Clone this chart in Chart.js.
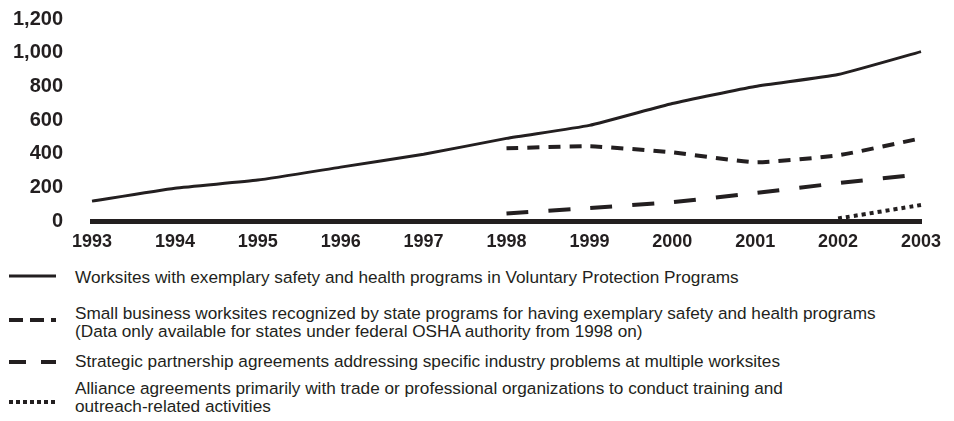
<!DOCTYPE html>
<html lang="en">
<head>
  <meta charset="UTF-8">
  <title>OSHA cooperative programs 1993-2003</title>
  <script src="https://cdn.jsdelivr.net/npm/chart.js"></script>
  <style>
    body {
      margin: 0;
      width: 954px;
      height: 421px;
      background: #fff;
      font-family: "Liberation Sans", Arial, sans-serif;
      color: #231f20;
      position: relative;
      overflow: hidden;
    }
    #chartBox {
      position: absolute;
      left: 0;
      top: 0;
      width: 954px;
      height: 256px;
    }
    .item {
      position: absolute;
      left: 75px;
      font-size: 17.2px;
      line-height: 18px;
      white-space: nowrap;
    }
    .sample {
      position: absolute;
      left: 9px;
    }
  </style>
</head>
<body>
  <div id="chartBox"><canvas id="programChart"></canvas></div>

  <svg class="sample" style="top:272px" width="48" height="8"><line x1="0" y1="4" x2="47" y2="4" stroke="#231f20" stroke-width="3"/></svg>
  <div class="item" style="top:268px">Worksites with exemplary safety and health programs in Voluntary Protection Programs</div>

  <svg class="sample" style="top:316px" width="48" height="8"><line x1="0" y1="4" x2="47" y2="4" stroke="#231f20" stroke-width="4" stroke-dasharray="14 7"/></svg>
  <div class="item" style="top:304px">Small business worksites recognized by state programs for having exemplary safety and health programs<br>(Data only available for states under federal OSHA authority from 1998 on)</div>

  <svg class="sample" style="top:358px" width="48" height="8"><line x1="0" y1="4" x2="47" y2="4" stroke="#231f20" stroke-width="4" stroke-dasharray="17 15"/></svg>
  <div class="item" style="top:352px">Strategic partnership agreements addressing specific industry problems at multiple worksites</div>

  <svg class="sample" style="top:398px" width="48" height="8"><line x1="0" y1="4" x2="47" y2="4" stroke="#231f20" stroke-width="4" stroke-dasharray="4 3"/></svg>
  <div class="item" style="top:379px">Alliance agreements primarily with trade or professional organizations to conduct training and<br>outreach-related activities</div>

  <script>
    const years = ['1993', '1994', '1995', '1996', '1997', '1998', '1999', '2000', '2001', '2002', '2003'];

    // values
    const vppSites = [118, 195, 243, 320, 396, 491, 568, 698, 799, 870, 1006];
    const smallBusiness = [null, null, null, null, null, 432, 444, 408, 349, 390, 491];
    const partnerships = [null, null, null, null, null, 45, 77, 112, 166, 225, 278];
    const alliances = [null, null, null, null, null, null, null, null, null, 15, 95];

    const ink = '#231f20';

    new Chart(document.getElementById('programChart'), {
      type: 'line',
      data: {
        labels: years,
        datasets: [
          { data: vppSites, borderWidth: 3 },
          { data: smallBusiness, borderWidth: 4, borderDash: [12, 9] },
          { data: partnerships, borderWidth: 4, borderDash: [22, 20] },
          { data: alliances, borderWidth: 4, borderDash: [4, 4] }
        ].map(ds => Object.assign(ds, {
          borderColor: ink,
          pointRadius: 0,
          tension: 0.15,
          fill: false
        }))
      },
      options: {
        responsive: true,
        maintainAspectRatio: false,
        animation: false,
        layout: { padding: { top: 19, right: 33, left: 0, bottom: 0 } },
        plugins: {
          legend: { display: false },
          tooltip: { enabled: false }
        },
        scales: {
          x: {
            offset: false,
            grid: { display: false, drawTicks: false },
            border: { display: true, color: ink, width: 5 },
            ticks: {
              color: ink,
              padding: 10,
              maxRotation: 0,
              font: { family: 'Liberation Sans', size: 18, weight: 'bold' }
            },
            afterFit: scale => { scale.height = 35; }
          },
          y: {
            min: 0,
            max: 1200,
            grid: { display: false, drawTicks: false },
            border: { display: false },
            ticks: {
              stepSize: 200,
              color: ink,
              padding: 29,
              font: { family: 'Liberation Sans', size: 20, weight: 'bold' },
              callback: v => v.toLocaleString('en-US')
            },
            // keep the label gap from eating into the plot height
            afterFit: scale => {
              scale.width = 92;
              scale.paddingTop = 0;
              scale.paddingBottom = 0;
            }
          }
        }
      }
    });
  </script>
</body>
</html>
